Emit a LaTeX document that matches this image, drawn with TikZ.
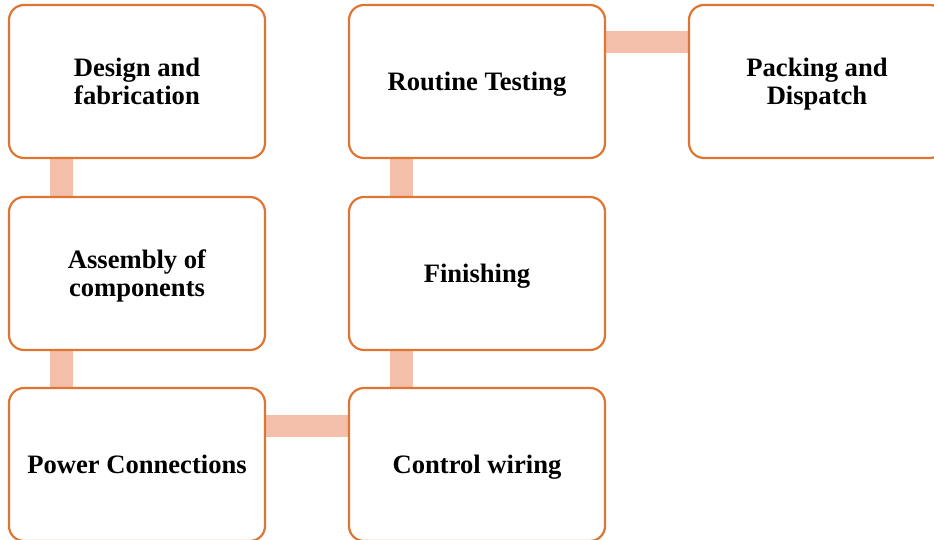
\documentclass[tikz,border=0pt]{standalone}
\usepackage{fontspec}
\setmainfont{Liberation Serif}
\usetikzlibrary{backgrounds}
\definecolor{boxline}{HTML}{DF7531}
\definecolor{barfill}{HTML}{F4BFAA}
\newcommand{\boxtext}[2]{\raisebox{#1}[\height][\depth]{\begin{tabular}{@{}c@{}}#2\end{tabular}}}
\begin{document}
\begin{tikzpicture}[x=1pt,y=-1pt,
  stepbox/.style={draw=boxline, line width=2.2pt, fill=white, rounded corners=15pt,
    minimum width=256pt, minimum height=153pt, inner sep=0pt,
    font=\fontsize{26.6}{28}\selectfont\bfseries},
  bar/.style={draw=barfill, line width=22.5pt}]
\useasboundingbox (0,0) rectangle (934,540);
\node[stepbox] (d) at (137,81.5) {\boxtext{-3.5pt}{Design and\\fabrication}};
\node[stepbox] (a) at (137,273.5) {\boxtext{-3.5pt}{Assembly of\\components}};
\node[stepbox] (p) at (137,464.5) {\boxtext{-3.5pt}{Power Connections}};
\node[stepbox] (c) at (477,464.5) {\boxtext{-3.5pt}{Control wiring}};
\node[stepbox] (f) at (477,273.5) {\boxtext{-3pt}{Finishing}};
\node[stepbox] (r) at (477,81.5) {\boxtext{-3.5pt}{Routine Testing}};
\node[stepbox] (k) at (817,81.5) {\boxtext{-3.5pt}{Packing and\\Dispatch}};
\begin{scope}[on background layer]
\draw[bar] ([xshift=-75.5pt]d.south) -- ([xshift=-75.5pt]a.north);
\draw[bar] ([xshift=-75.5pt]a.south) -- ([xshift=-75.5pt]p.north);
\draw[bar] ([yshift=38.5pt]p.east) -- ([yshift=38.5pt]c.west);
\draw[bar] ([xshift=-75.5pt]c.north) -- ([xshift=-75.5pt]f.south);
\draw[bar] ([xshift=-75.5pt]f.north) -- ([xshift=-75.5pt]r.south);
\draw[bar] ([yshift=39.5pt]r.east) -- ([yshift=39.5pt]k.west);
\end{scope}
\end{tikzpicture}
\end{document}
